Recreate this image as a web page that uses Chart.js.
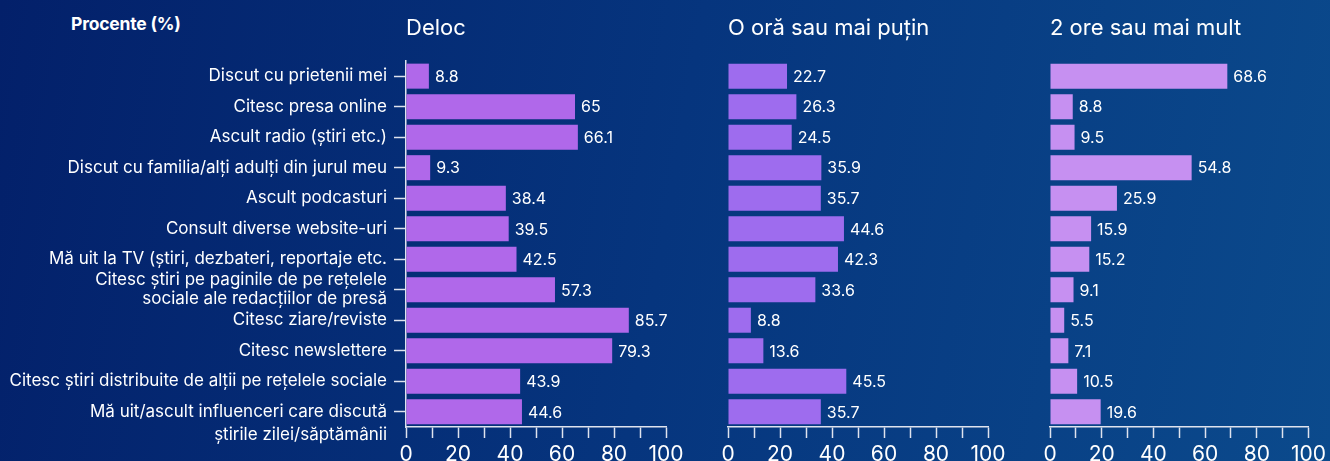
<!DOCTYPE html>
<html lang="ro">
<head>
<meta charset="utf-8">
<script src="https://cdn.jsdelivr.net/npm/chart.js@4"></script>
<style>
    html, body {
        margin: 0;
        padding: 0;
        width: 1330px;
        height: 461px;
        overflow: hidden;
    }
    body {
        position: relative;
        background: linear-gradient(100deg, #03206a 0%, #06357e 50%, #0b4a8c 100%);
        font-family: Inter, sans-serif;
    }
    canvas {
        position: absolute;
        top: 0;
    }
    #unit {
        position: absolute;
        left: 71px;
        top: 13px;
        color: #ffffff;
        font-weight: 700;
        font-size: 17.5px;
        letter-spacing: -0.2px;
    }
</style>
</head>
<body>
<div id="unit">Procente (%)</div>
<canvas id="deloc" width="690" height="461" style="left:0"></canvas>
<canvas id="oOra" width="312" height="461" style="left:700px"></canvas>
<canvas id="douaOre" width="308" height="461" style="left:1022px"></canvas>
<script>
const categories = [
    "Discut cu prietenii mei",
    "Citesc presa online",
    "Ascult radio (știri etc.)",
    "Discut cu familia/alți adulți din jurul meu",
    "Ascult podcasturi",
    "Consult diverse website-uri",
    "Mă uit la TV (știri, dezbateri, reportaje etc.",
    ["Citesc știri pe paginile de pe rețelele", "sociale ale redacțiilor de presă"],
    "Citesc ziare/reviste",
    "Citesc newslettere",
    "Citesc știri distribuite de alții pe rețelele sociale",
    ["", "Mă uit/ascult influenceri care discută", "știrile zilei/săptămânii"]
];
const delocValues = [8.8, 65, 66.1, 9.3, 38.4, 39.5, 42.5, 57.3, 85.7, 79.3, 43.9, 44.6];
const oOraValues = [22.7, 26.3, 24.5, 35.9, 35.7, 44.6, 42.3, 33.6, 8.8, 13.6, 45.5, 35.7];
const douaOreValues = [68.6, 8.8, 9.5, 54.8, 25.9, 15.9, 15.2, 9.1, 5.5, 7.1, 10.5, 19.6];
const tickLabels = [0, 20, 40, 60, 80, 100];

const axisColor = "#dfe3ee";
const textColor = "#ffffff";

// writes each bar's value just past its end
const valueLabels = {
    id: "valueLabels",
    afterDatasetsDraw: function (chart) {
        const ctx = chart.ctx;
        const values = chart.data.datasets[0].data;
        ctx.save();
        ctx.font = "16px Inter";
        ctx.fillStyle = textColor;
        ctx.textBaseline = "middle";
        chart.getDatasetMeta(0).data.forEach(function (bar, i) {
            ctx.fillText(String(values[i]), bar.x + 6, bar.y + 1);
        });
        ctx.restore();
    }
};

function buildChart(id, title, values, color, showCategories, padLeft, padRight) {
    const ctx = document.getElementById(id).getContext("2d");

    const yScale = {
        display: showCategories,
        grid: {
            display: showCategories,
            offset: false,
            drawOnChartArea: false,
            drawTicks: true,
            tickLength: 12,
            tickWidth: 1.5,
            color: axisColor
        },
        border: { display: showCategories, color: axisColor, width: 1.5 },
        ticks: {
            autoSkip: false,
            padding: 7,
            color: textColor,
            font: function (context) {
                // the two-line label at the bottom sits with its first line on the tick
                const lineHeight = context.index === categories.length - 1 ? 1.35 : 1.1;
                return { family: "Inter", size: 17, lineHeight: lineHeight };
            }
        }
    };
    if (showCategories) {
        yScale.afterFit = function (scale) {
            scale.width = 406;
        };
    }

    new Chart(ctx, {
        type: "bar",
        data: {
            labels: categories,
            datasets: [
                {
                    data: values,
                    backgroundColor: color,
                    borderWidth: 0,
                    categoryPercentage: 1,
                    barPercentage: 0.82
                }
            ]
        },
        options: {
            indexAxis: "y",
            responsive: false,
            animation: false,
            events: [],
            layout: {
                padding: { left: padLeft, right: padRight, top: 0, bottom: 0 }
            },
            plugins: {
                legend: { display: false },
                tooltip: { enabled: false },
                title: {
                    display: true,
                    text: title,
                    align: "start",
                    fullSize: false,
                    color: textColor,
                    font: { family: "Inter", size: 22, weight: "normal" },
                    padding: { top: 15, bottom: 19.5 }
                }
            },
            scales: {
                x: {
                    min: 0,
                    max: 100,
                    afterFit: function (scale) {
                        scale.height = 34;
                    },
                    grid: {
                        drawOnChartArea: false,
                        drawTicks: true,
                        tickLength: 11,
                        tickWidth: 1.5,
                        color: axisColor
                    },
                    border: { display: true, color: axisColor, width: 1.5 },
                    ticks: {
                        stepSize: 10,
                        autoSkip: false,
                        maxRotation: 0,
                        padding: 4,
                        color: textColor,
                        font: { family: "Inter", size: 21 },
                        callback: function (value) {
                            return tickLabels.includes(value) ? value : "";
                        }
                    }
                },
                y: yScale
            }
        },
        plugins: [valueLabels]
    });
}

document.addEventListener("DOMContentLoaded", function () {
    buildChart("deloc", "Deloc", delocValues, "#b068ea", true, 0, 24);
    buildChart("oOra", "O oră sau mai puțin", oOraValues, "#9e6cee", false, 28, 24);
    buildChart("douaOre", "2 ore sau mai mult", douaOreValues, "#c690f1", false, 28, 19);
});
</script>
</body>
</html>
